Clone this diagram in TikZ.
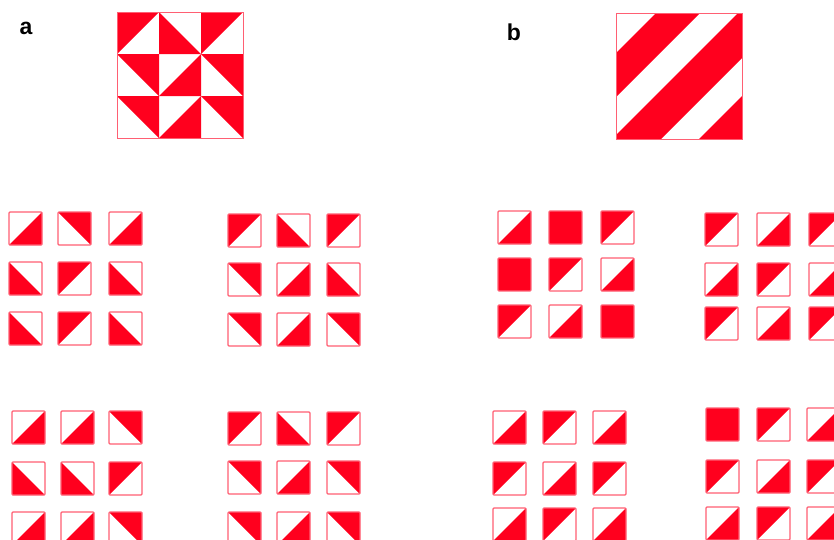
\documentclass[tikz,border=0pt]{standalone}
\usepackage{fontspec}
\setmainfont{Liberation Sans}
\definecolor{tred}{RGB}{255,0,30}
\definecolor{tedge}{RGB}{255,95,115}
\tikzset{
  x=1pt, y=-1pt,
  redfill/.style={fill=tred},
  tileedge/.style={draw=tedge, line width=1.3pt, rounded corners=1pt},
  panellabel/.style={font=\bfseries\fontsize{23}{23}\selectfont, inner sep=0pt},
  pics/ttl/.style={code={\fill[redfill] (0,0)--(33,0)--(0,33)--cycle; \draw[tileedge] (0,0) rectangle (33,33);}},
  pics/tbr/.style={code={\fill[redfill] (33,0)--(33,33)--(0,33)--cycle; \draw[tileedge] (0,0) rectangle (33,33);}},
  pics/ttr/.style={code={\fill[redfill] (0,0)--(33,0)--(33,33)--cycle; \draw[tileedge] (0,0) rectangle (33,33);}},
  pics/tbl/.style={code={\fill[redfill] (0,0)--(0,33)--(33,33)--cycle; \draw[tileedge] (0,0) rectangle (33,33);}},
  pics/tff/.style={code={\fill[redfill] (0,0) rectangle (33,33); \draw[tileedge] (0,0) rectangle (33,33);}},
}
\newcommand\trow[7]{\pic at (#1,#4) {#5}; \pic at (#2,#4) {#6}; \pic at (#3,#4) {#7};}
\begin{document}
\begin{tikzpicture}
\useasboundingbox (0,0) rectangle (834,539);
\clip (0,0) rectangle (834,539);
\fill[white] (0,0) rectangle (834,539);

% labels
\node[panellabel] (la) at (26,28) {a};
\node[panellabel] (lb) at (514,32) {b};

% top pattern a
\fill[redfill] (117,12)--(159,12)--(117,54)--cycle;
\fill[redfill] (159,12)--(159,54)--(201,54)--cycle;
\fill[redfill] (201,12)--(243,12)--(201,54)--cycle;
\fill[redfill] (117,54)--(159,54)--(159,96)--cycle;
\fill[redfill] (201,54)--(201,96)--(159,96)--cycle;
\fill[redfill] (201,54)--(243,54)--(243,96)--cycle;
\fill[redfill] (117,96)--(159,96)--(159,138)--cycle;
\fill[redfill] (201,96)--(201,138)--(159,138)--cycle;
\fill[redfill] (201,96)--(243,96)--(243,138)--cycle;
\draw[draw=tedge, line width=1pt] (117,12) rectangle (243,138);

% top pattern b
\begin{scope}
\clip (616,13) rectangle (742,139);
\fill[redfill] (676,-7)--(720,-7)--(500,213)--(456,213)--cycle;
\fill[redfill] (758,-7)--(807,-7)--(587,213)--(538,213)--cycle;
\fill[redfill] (845,-7)--(900,-7)--(680,213)--(625,213)--cycle;
\end{scope}
\draw[draw=tedge, line width=1pt] (616,13) rectangle (742,139);

% panel a, top-left group
\trow{9}{58}{109}{212}{tbr}{ttr}{tbr}
\trow{9}{58}{109}{262}{tbl}{ttl}{tbl}
\trow{9}{58}{109}{312}{tbl}{ttl}{tbl}
% panel a, top-right group
\trow{228}{277}{327}{214}{ttl}{tbl}{ttl}
\trow{228}{277}{327}{263}{ttr}{tbr}{tbl}
\trow{228}{277}{327}{313}{ttr}{tbr}{ttr}
% panel a, bottom-left group
\trow{12}{61}{109}{411}{tbr}{tbr}{ttr}
\trow{12}{61}{109}{462}{tbl}{tbl}{ttl}
\trow{12}{61}{109}{512}{tbr}{tbr}{ttr}
% panel a, bottom-right group
\trow{228}{277}{327}{412}{ttl}{tbl}{ttl}
\trow{228}{277}{327}{461}{ttr}{tbr}{ttr}
\trow{228}{277}{327}{512}{ttr}{tbr}{ttr}

% panel b, top-left group
\trow{498}{549}{601}{211}{tbr}{tff}{ttl}
\trow{498}{549}{601}{258}{tff}{ttl}{tbr}
\trow{498}{549}{601}{305}{ttl}{tbr}{tff}
% panel b, top-right group
\trow{705}{757}{809}{213}{ttl}{tbr}{ttl}
\trow{705}{757}{809}{263}{tbr}{ttl}{tbr}
\trow{705}{757}{809}{307}{ttl}{tbr}{ttl}
% panel b, bottom-left group
\trow{493}{543}{593}{411}{tbr}{ttl}{tbr}
\trow{493}{543}{593}{462}{ttl}{tbr}{ttl}
\trow{493}{543}{593}{508}{tbr}{ttl}{tbr}
% panel b, bottom-right group
\trow{706}{757}{807}{408}{tff}{ttl}{tbr}
\trow{706}{757}{807}{460}{ttl}{tbr}{ttl}
\trow{706}{757}{807}{507}{tbr}{ttl}{tbr}
\end{tikzpicture}
\end{document}
